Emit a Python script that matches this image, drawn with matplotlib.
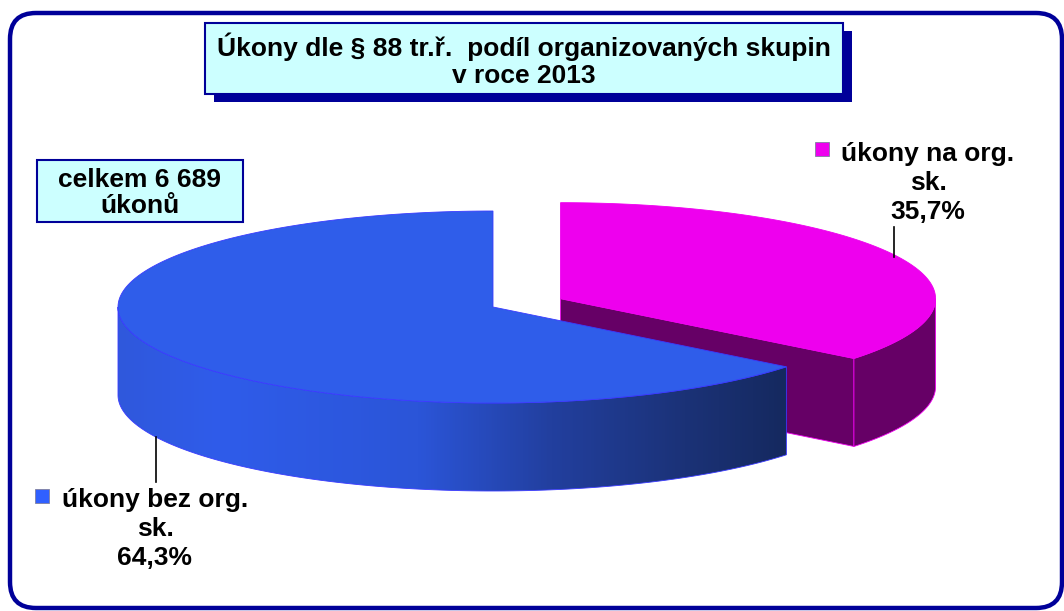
import numpy as np
import matplotlib
matplotlib.use("Agg")
import matplotlib.pyplot as plt
from matplotlib.patches import Polygon, FancyBboxPatch, Rectangle
from matplotlib.colors import LinearSegmentedColormap

plt.rcParams['font.family'] = ['Liberation Sans', 'DejaVu Sans']

# ---- data ----
categories = ["úkony bez org.\nsk.", "úkony na org.\nsk."]
shares = [64.3, 35.7]
total_text = "celkem 6 689\núkonů"
title_text = "Úkony dle § 88 tr.ř.  podíl organizovaných skupin\nv roce 2013"
pct_labels = ["64,3%", "35,7%"]

# ---- style ----
BLUE_TOP = "#2f5dea"
BLUE_EDGE = "#3a3aff"
MAG_TOP = "#ee00ee"
MAG_SIDE = "#660066"
FRAME = "#000099"
BOXFILL = "#ccffff"

W, H = 1064, 611
fig = plt.figure(figsize=(W / 100, H / 100), dpi=100)
ax = fig.add_axes([0, 0, 1, 1])
ax.set_xlim(0, W)
ax.set_ylim(H, 0)
ax.axis("off")

# outer frame
ax.add_patch(FancyBboxPatch((10, 13), 1052, 595,
                            boxstyle="round,pad=0,rounding_size=26",
                            facecolor="white", edgecolor=FRAME, lw=3.2, zorder=0))

# ---- 3D pie geometry ----
C = np.array([493.0, 307.0])
RX, RY, D = 375.0, 96.0, 88.0
explode = [0.0, 0.2]


def arc(center, t0, t1, n=200, dy=0.0):
    t = np.radians(np.linspace(t0, t1, n))
    return np.column_stack([center[0] + RX * np.cos(t), center[1] - RY * np.sin(t) + dy])


start = 90.0
angles = []
a = start
for s in shares:
    span = 360.0 * s / sum(shares)
    angles.append((a, a + span))
    a += span

centers = []
for (t0, t1), e in zip(angles, explode):
    mid = np.radians((t0 + t1) / 2)
    centers.append(C + e * np.array([RX * np.cos(mid), -RY * np.sin(mid)]))

# slice 2 (magenta, behind)
(m0, m1), cm = angles[1], centers[1]
p = arc(cm, m0, m0, n=1)[0]
ax.add_patch(Polygon([cm, p, p + [0, D], cm + [0, D]], closed=True,
                     facecolor=MAG_SIDE, edgecolor=MAG_TOP, lw=0.6, zorder=2))
top = arc(cm, m0, 360)
bot = arc(cm, 360, m0, dy=D)
ax.add_patch(Polygon(np.vstack([top, bot]), closed=True,
                     facecolor=MAG_SIDE, edgecolor=MAG_TOP, lw=0.6, zorder=2))
ax.add_patch(Polygon(np.vstack([[cm], arc(cm, m0, m1)]), closed=True,
                     facecolor=MAG_TOP, edgecolor=MAG_TOP, lw=0.6, zorder=3))

# slice 1 (blue, front)
(b0, b1), cb = angles[0], centers[0]
top = arc(cb, 180, b1)
bot = arc(cb, b1, 180, dy=D)
side = Polygon(np.vstack([top, bot]), closed=True, facecolor="none",
               edgecolor=BLUE_EDGE, lw=0.6, zorder=5)
ax.add_patch(side)
grad = LinearSegmentedColormap.from_list("g", [
    (0.0, "#3058dc"), (0.15, "#2f5cea"), (0.45, "#2b55d8"),
    (0.65, "#223f9e"), (0.85, "#1b3277"), (1.0, "#15295f")])
xs = np.linspace(0, 1, 512)[None, :]
x_lo, x_hi = cb[0] - RX, top[-1, 0]
im = ax.imshow(xs, cmap=grad, aspect="auto",
               extent=[x_lo, x_hi, cb[1] + RY + D + 5, cb[1] - 5], zorder=4)
im.set_clip_path(side)
ax.set_xlim(0, W)
ax.set_ylim(H, 0)
ax.add_patch(Polygon(np.vstack([[cb], arc(cb, b0, b1)]), closed=True,
                     facecolor=BLUE_TOP, edgecolor=BLUE_EDGE, lw=0.6, zorder=6))

# ---- title box ----
ax.add_patch(Rectangle((214, 31), 638, 71, facecolor=FRAME, edgecolor="none", zorder=7))
ax.add_patch(Rectangle((205, 23), 638, 71, facecolor=BOXFILL, edgecolor=FRAME, lw=1.5, zorder=8))
ax.text(524, 60, title_text, ha="center", va="center", fontsize=19,
        fontweight="bold", linespacing=1.17, zorder=9)

# ---- total box ----
ax.add_patch(Rectangle((37, 160), 206, 62, facecolor=BOXFILL, edgecolor=FRAME, lw=1.5, zorder=8))
ax.text(140, 193, total_text, ha="center", va="center", fontsize=19,
        fontweight="bold", linespacing=1.13, zorder=9)

# ---- data labels ----
label_pos = [(155, 529), (928, 183)]
key_pos = [(35, 489), (815, 142)]
key_col = ["#3060ff", MAG_TOP]
leader = [((156, 437), (156, 482)), ((894, 227), (894, 257))]
for cat, pct, (lx, ly), (kx, ky), kc, (l0, l1) in zip(categories, pct_labels, label_pos,
                                                      key_pos, key_col, leader):
    ax.text(lx, ly, cat + "\n" + pct, ha="center", va="center", fontsize=19,
            fontweight="bold", linespacing=1.28, zorder=9)
    ax.add_patch(Rectangle((kx, ky), 14, 14, facecolor=kc, edgecolor="#8080a0", lw=0.6, zorder=9))
    ax.plot([l0[0], l1[0]], [l0[1], l1[1]], color="black", lw=1.2, zorder=9)

fig.savefig("out.png", dpi=100)
